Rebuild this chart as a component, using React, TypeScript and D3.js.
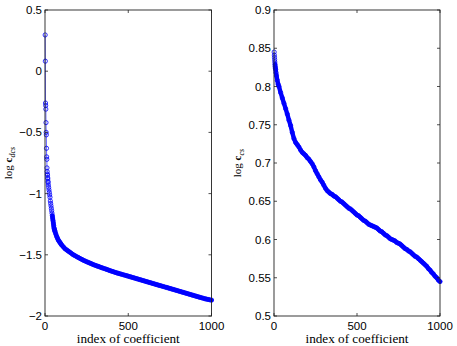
import React from "react";
import * as d3 from "d3";

const xTicks = [0, 500, 1000];
const leftYTicks = [-2, -1.5, -1, -0.5, 0, 0.5];
const rightYTicks = [0.5, 0.55, 0.6, 0.65, 0.7, 0.75, 0.8, 0.85, 0.9];

const leftIndex = [
  1, 2, 3, 4, 5, 6, 7, 8, 9, 10, 11, 12, 13, 14, 15, 16, 17, 18, 19, 20,
  22, 24, 26, 28, 30, 32, 34, 36, 38, 40, 42, 44, 46, 48, 50, 52, 54, 56, 58, 60,
  65, 70, 75, 80, 85, 90, 95, 100,
  110, 120, 130, 140, 150, 160, 170, 180, 190, 200, 210, 220, 230, 240, 250, 260, 270, 280, 290, 300,
  310, 320, 330, 340, 350, 360, 370, 380, 390, 400, 410, 420, 430, 440, 450, 460, 470, 480, 490, 500,
  510, 520, 530, 540, 550, 560, 570, 580, 590, 600, 610, 620, 630, 640, 650, 660, 670, 680, 690, 700,
  710, 720, 730, 740, 750, 760, 770, 780, 790, 800, 810, 820, 830, 840, 850, 860, 870, 880, 890, 900,
  910, 920, 930, 940, 950, 960, 970, 980, 990, 1000,
];
const leftValue = [
  0.296, 0.082, -0.26, -0.28, -0.31, -0.42, -0.5, -0.52, -0.63, -0.7, -0.72, -0.79, -0.82, -0.84, -0.85, -0.87, -0.88, -0.9, -0.91, -0.93,
  -0.95, -0.97, -0.99, -1.01, -1.03, -1.06, -1.08, -1.1, -1.12, -1.14, -1.16, -1.18, -1.2, -1.22, -1.24, -1.26, -1.28, -1.29, -1.3, -1.31,
  -1.33, -1.35, -1.365, -1.38, -1.39, -1.4, -1.41, -1.42,
  -1.435, -1.45, -1.46, -1.47, -1.48, -1.49, -1.5, -1.507, -1.515, -1.522, -1.53, -1.537, -1.544, -1.55, -1.556, -1.562, -1.568, -1.574, -1.58, -1.585,
  -1.59, -1.595, -1.6, -1.605, -1.61, -1.614, -1.619, -1.624, -1.629, -1.634, -1.638, -1.643, -1.647, -1.651, -1.655, -1.659, -1.663, -1.667, -1.671, -1.675,
  -1.679, -1.683, -1.687, -1.691, -1.695, -1.699, -1.703, -1.707, -1.711, -1.715, -1.719, -1.723, -1.727, -1.731, -1.735, -1.739, -1.743, -1.747, -1.751, -1.755,
  -1.759, -1.763, -1.767, -1.771, -1.775, -1.779, -1.783, -1.787, -1.791, -1.795, -1.799, -1.803, -1.807, -1.811, -1.815, -1.819, -1.823, -1.827, -1.831, -1.835,
  -1.839, -1.843, -1.847, -1.851, -1.855, -1.859, -1.862, -1.865, -1.868, -1.87,
];

const rightIndex = [
  1, 2, 3, 4, 5, 6, 7, 8, 10, 12, 15, 20, 25, 30, 40, 50, 60, 70, 80, 90, 100,
  110, 120, 130, 140, 150, 160, 170, 180, 190, 200, 210, 220, 230, 240, 250, 260, 270, 280, 290, 300,
  310, 320, 330, 340, 350, 360, 370, 380, 390, 400, 410, 420, 430, 440, 450, 460, 470, 480, 490, 500,
  510, 520, 530, 540, 550, 560, 570, 580, 590, 600, 610, 620, 630, 640, 650, 660, 670, 680, 690, 700,
  710, 720, 730, 740, 750, 760, 770, 780, 790, 800, 810, 820, 830, 840, 850, 860, 870, 880, 890, 900,
  910, 920, 930, 940, 950, 960, 970, 980, 990, 1000,
];
const rightValue = [
  0.845, 0.841, 0.838, 0.835, 0.832, 0.829, 0.826, 0.824, 0.822, 0.818, 0.814, 0.808, 0.803, 0.8, 0.792, 0.785, 0.778, 0.771, 0.764, 0.756, 0.749,
  0.74, 0.732, 0.727, 0.724, 0.721, 0.717, 0.714, 0.712, 0.71, 0.707, 0.705, 0.702, 0.699, 0.695, 0.69, 0.686, 0.682, 0.678, 0.675, 0.671,
  0.667, 0.664, 0.662, 0.66, 0.659, 0.657, 0.656, 0.654, 0.652, 0.65, 0.649, 0.647, 0.645, 0.643, 0.641, 0.64, 0.638, 0.636, 0.634, 0.632,
  0.631, 0.629, 0.627, 0.625, 0.624, 0.622, 0.62, 0.619, 0.618, 0.617, 0.616, 0.615, 0.613, 0.611, 0.61, 0.608, 0.606, 0.605, 0.603, 0.601,
  0.6, 0.599, 0.598, 0.596, 0.595, 0.594, 0.592, 0.59, 0.588, 0.587, 0.585, 0.584, 0.582, 0.58, 0.578, 0.577, 0.575, 0.573, 0.571, 0.569,
  0.567, 0.565, 0.562, 0.56, 0.557, 0.555, 0.552, 0.55, 0.547, 0.545,
];

const BLUE = "#0000ff";
const AXIS = "#222";
const SANS = "'Liberation Sans', Arial, Helvetica, sans-serif";
const SERIF = "'Liberation Serif', 'Times New Roman', serif";

type PanelProps = {
  x0: number;
  x1: number;
  y0: number;
  y1: number;
  yDomain: [number, number];
  yTicks: number[];
  yFmt: (v: number) => string;
  idx: number[];
  val: number[];
  denseFrom: number;
  sub: string;
  labelX: number;
};

function Panel({ x0, x1, y0, y1, yDomain, yTicks, yFmt, idx, val, denseFrom, sub, labelX }: PanelProps) {
  const x = d3.scaleLinear().domain([0, 1000]).range([x0, x1]);
  const y = d3.scaleLinear().domain(yDomain).range([y1, y0]);
  const pts = idx.map((d, i) => [d, val[i]] as [number, number]);
  const dense = pts.filter((d) => d[0] >= denseFrom);
  const line = d3
    .line<[number, number]>()
    .x((d) => x(d[0]))
    .y((d) => y(d[1]));
  const tl = 3;
  const cy = (y0 + y1) / 2;
  return (
    <g>
      <path d={line(pts) || ""} fill="none" stroke={BLUE} strokeWidth={0.6} />
      <path
        d={line(dense) || ""}
        fill="none"
        stroke={BLUE}
        strokeWidth={4.4}
        strokeLinecap="round"
        strokeLinejoin="round"
      />
      {pts.map((d, i) => (
        <circle key={i} cx={x(d[0])} cy={y(d[1])} r={2.1} fill="none" stroke={BLUE} strokeWidth={0.8} />
      ))}
      <rect x={x0} y={y0} width={x1 - x0} height={y1 - y0} fill="none" stroke={AXIS} strokeWidth={0.9} />
      {xTicks.map((t) => (
        <g key={"x" + t}>
          <line x1={x(t)} x2={x(t)} y1={y1} y2={y1 - tl} stroke={AXIS} strokeWidth={0.8} />
          <line x1={x(t)} x2={x(t)} y1={y0} y2={y0 + tl} stroke={AXIS} strokeWidth={0.8} />
          <text x={x(t)} y={y1 + 14} textAnchor="middle" fontFamily={SANS} fontSize={11.5} fill="#000">
            {t}
          </text>
        </g>
      ))}
      {yTicks.map((t) => (
        <g key={"y" + t}>
          <line x1={x0} x2={x0 + tl} y1={y(t)} y2={y(t)} stroke={AXIS} strokeWidth={0.8} />
          <line x1={x1} x2={x1 - tl} y1={y(t)} y2={y(t)} stroke={AXIS} strokeWidth={0.8} />
          <text x={x0 - 3} y={y(t) + 4} textAnchor="end" fontFamily={SANS} fontSize={11.5} fill="#000">
            {yFmt(t)}
          </text>
        </g>
      ))}
      <text
        x={(x0 + x1) / 2}
        y={y1 + 27}
        textAnchor="middle"
        fontFamily={SERIF}
        fontSize={12}
        textLength={103}
        lengthAdjust="spacingAndGlyphs"
        fill="#000"
      >
        index of coefficient
      </text>
      <text
        transform={`translate(${labelX},${cy}) rotate(-90)`}
        textAnchor="middle"
        fontFamily={SERIF}
        fontSize={11}
        fill="#000"
      >
        <tspan>log </tspan>
        <tspan fontWeight="bold">c</tspan>
        <tspan fontStyle="italic" fontSize={8} dy={2.5}>
          {sub}
        </tspan>
      </text>
    </g>
  );
}

export default function App() {
  const fmtLeft = (v: number) => (v === 0 ? "0" : d3.format("")(v).replace("-", "\u2212"));
  const fmtRight = (v: number) => String(+v.toFixed(2));
  return (
    <svg
      width={457}
      height={346}
      style={{ position: "absolute", left: 0, top: 0, background: "#fff" }}
    >
      <rect width={457} height={346} fill="#fff" />
      <Panel
        x0={45}
        x1={211.5}
        y0={10}
        y1={316}
        yDomain={[-2, 0.5]}
        yTicks={leftYTicks}
        yFmt={fmtLeft}
        idx={leftIndex}
        val={leftValue}
        denseFrom={44}
        sub="dcs"
        labelX={12}
      />
      <Panel
        x0={274}
        x1={440}
        y0={10}
        y1={316}
        yDomain={[0.5, 0.9]}
        yTicks={rightYTicks}
        yFmt={fmtRight}
        idx={rightIndex}
        val={rightValue}
        denseFrom={6}
        sub="cs"
        labelX={241}
      />
    </svg>
  );
}
